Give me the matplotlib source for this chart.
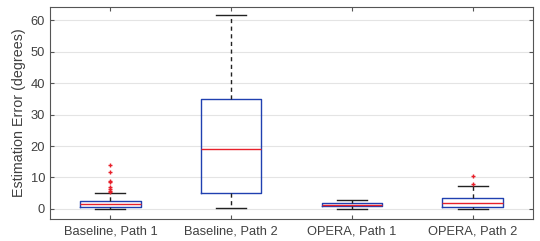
import matplotlib
matplotlib.use("Agg")
import matplotlib.pyplot as plt

plt.rcParams['font.family'] = ['Liberation Sans', 'DejaVu Sans']

categories = ["Baseline, Path 1", "Baseline, Path 2", "OPERA, Path 1", "OPERA, Path 2"]
q1 = [0.55, 5.2, 0.85, 0.7]
median = [1.6, 19.0, 1.2, 1.8]
q3 = [2.5, 35.0, 1.8, 3.4]
whisker_low = [0.0, 0.2, 0.0, 0.0]
whisker_high = [5.2, 61.5, 2.9, 7.2]
outliers = [[13.9, 11.6, 9.0, 8.5, 7.1, 6.4, 5.7, 5.5], [], [], [10.4, 7.8]]
yticks = [0, 10, 20, 30, 40, 50, 60]

stats = []
for i, name in enumerate(categories):
    stats.append(dict(label=name, q1=q1[i], med=median[i], q3=q3[i],
                      whislo=whisker_low[i], whishi=whisker_high[i],
                      fliers=outliers[i]))

fig = plt.figure(figsize=(5.4, 2.41), dpi=100)
ax = fig.add_axes([50/540, 1-219/241, (533-50)/540, (219-7)/241])

axc = '#555555'
ax.bxp(stats, widths=0.5, showfliers=True,
       boxprops=dict(color='#2040b0', linewidth=1.0),
       medianprops=dict(color='#e8202a', linewidth=1.0),
       whiskerprops=dict(color='#222222', linestyle=(0, (3, 2.5)), linewidth=1.0),
       capprops=dict(color='#222222', linewidth=1.0),
       flierprops=dict(marker='+', markersize=3, markeredgecolor='#e8202a',
                       markeredgewidth=1.0, linestyle='none'),
       capwidths=0.25)

ax.set_xlim(0.5, 4.5)
ax.set_ylim(-3.2, 64.2)
ax.set_yticks(yticks)
ax.set_xticks(range(1, len(categories) + 1))
ax.set_xticklabels(categories)
ax.yaxis.grid(True, color='#e4e4e4', linewidth=0.8)
ax.set_axisbelow(True)
ax.tick_params(axis='both', direction='in', length=3, colors=axc,
               labelcolor='#404040', labelsize=9.3, top=True, right=True, width=0.8)
ax.tick_params(axis='x', pad=5)
for s in ax.spines.values():
    s.set_color(axc)
    s.set_linewidth(0.8)
ax.set_ylabel("Estimation Error (degrees)", fontsize=10.3, color='#404040', labelpad=3)

fig.savefig("out.png", dpi=100)
